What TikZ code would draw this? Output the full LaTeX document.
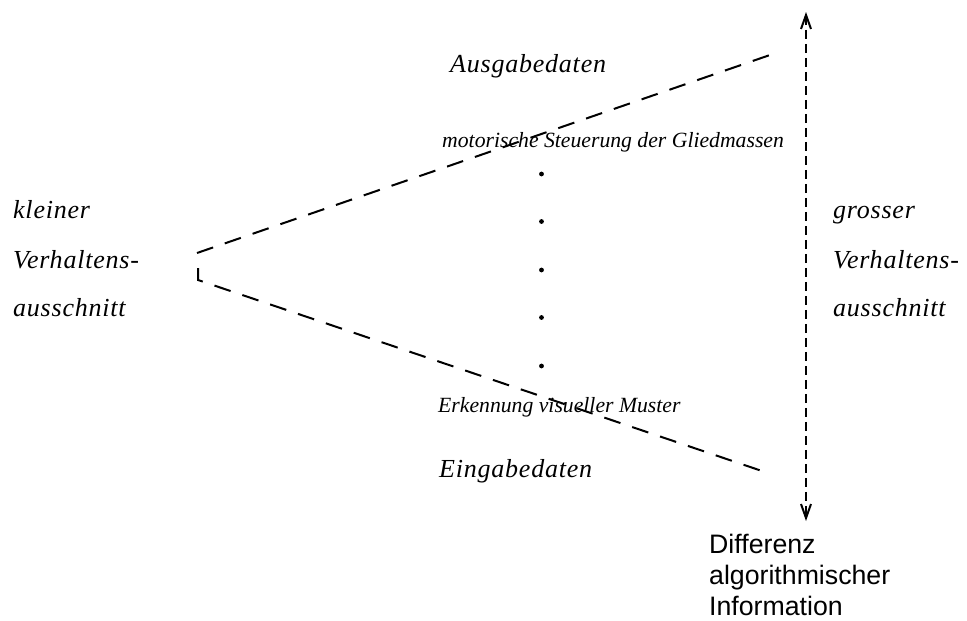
\documentclass[tikz,border=0pt]{standalone}
\usepackage{fontspec}
\setmainfont{Liberation Serif}
\setsansfont{Liberation Sans}
\newfontfamily\spacedserif[LetterSpace=3]{Liberation Serif}
\usetikzlibrary{arrows.meta,positioning}

\begin{document}
\begin{tikzpicture}[x=1pt,y=-1pt,
    biglabel/.style={anchor=base west,inner sep=0pt,font=\spacedserif\itshape\fontsize{26}{31}\selectfont},
    smalllabel/.style={anchor=base west,inner sep=0pt,font=\itshape\fontsize{21.7}{26}\selectfont},
    infolabel/.style={anchor=base west,inner sep=0pt,font=\sffamily\fontsize{26.7}{31}\selectfont},
    scopeline/.style={line width=2pt,dash pattern=on 17pt off 12.4pt},
    dot/.style={circle,fill,inner sep=0pt,minimum size=4.8pt}]
    \useasboundingbox (0,0) rectangle (967,621);

    % corner points of the wedge
    \coordinate (apex top) at (197,253);
    \coordinate (apex low) at (198,268);
    \coordinate (apex bend) at (198,280);
    \coordinate (out end) at (770,55);
    \coordinate (in end) at (762,471);

    % dashed wedge
    \draw[scopeline] (apex top) -- (out end);
    \draw[scopeline] (apex low) -- (apex bend) -- (in end);

    % dotted levels in between
    \foreach \y [count=\i] in {174,221.5,270,317.5,366}
        \node[dot] (level\i) at (541.5,\y) {};

    % difference arrow
    \coordinate (diff top) at (806,12);
    \coordinate (diff bottom) at (806,521);
    \draw[line width=2pt,dash pattern=on 9pt off 5pt,
        {Straight Barb[length=14pt,width=10pt]}-{Straight Barb[length=14pt,width=10pt]}]
        (diff top) -- (diff bottom);

    % labels
    \node[biglabel] (out data) at (450,72) {Ausgabedaten};
    \node[smalllabel] (motor) at (442,147) {motorische Steuerung der Gliedmassen};
    \node[smalllabel] (vision) at (438,412) {Erkennung visueller Muster};
    \node[biglabel] (in data) at (439,477) {Eingabedaten};

    \node[biglabel] (small1) at (13,218) {kleiner};
    \node[biglabel] (small2) at (13,268) {Verhaltens-};
    \node[biglabel] (small3) at (13,316) {ausschnitt};

    \node[biglabel] (large1) at (833,218) {grosser};
    \node[biglabel] (large2) at (833,268) {Verhaltens-};
    \node[biglabel] (large3) at (833,316) {ausschnitt};

    \node[infolabel] (info1) at (709,553) {Differenz};
    \node[infolabel] (info2) at (709,584) {algorithmischer};
    \node[infolabel] (info3) at (709,615) {Information};
\end{tikzpicture}
\end{document}
